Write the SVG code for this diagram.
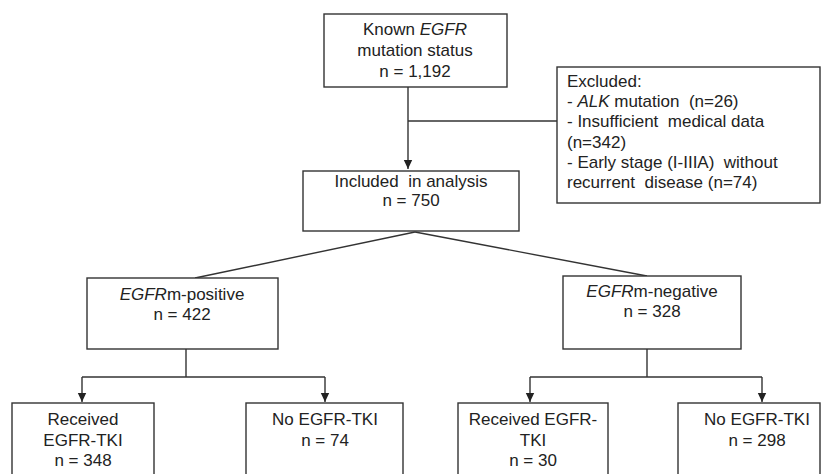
<svg xmlns="http://www.w3.org/2000/svg" width="823" height="474" viewBox="0 0 823 474">
<defs>
<style>
.box{fill:#fff;stroke:#333;stroke-width:1.4}
.ln{fill:none;stroke:#333;stroke-width:1.4}
text{font-family:"Liberation Sans",Arial,sans-serif;font-size:17px;fill:#222}
.c{text-anchor:middle}
.i{font-style:italic}
</style>
<marker id="arr" markerWidth="10" markerHeight="10" refX="9" refY="5" orient="auto" markerUnits="userSpaceOnUse">
<path d="M0,0.8 L9,5 L0,9.2 Z" fill="#222"/>
</marker>
</defs>
<rect width="823" height="474" fill="#fff"/>
<g id="connectors">
<path class="ln" d="M408,87 V169" marker-end="url(#arr)"/>
<path class="ln" d="M408,121 H557"/>
<path class="ln" d="M415,232 L195,278"/>
<path class="ln" d="M415,232 L647,276"/>
<path class="ln" d="M186,349 V377"/>
<path class="ln" d="M82,377 H325"/>
<path class="ln" d="M82,377 V402" marker-end="url(#arr)"/>
<path class="ln" d="M325,377 V402" marker-end="url(#arr)"/>
<path class="ln" d="M647,349 V377"/>
<path class="ln" d="M530,377 H762"/>
<path class="ln" d="M530,377 V402" marker-end="url(#arr)"/>
<path class="ln" d="M762,377 V402" marker-end="url(#arr)"/>
</g>
<g id="known">
<rect class="box" x="324" y="14" width="183" height="73"/>
<text class="c" x="415" y="35">Known <tspan class="i">EGFR</tspan></text>
<text class="c" x="415" y="56">mutation status</text>
<text class="c" x="415" y="77">n = 1,192</text>
</g>
<g id="excluded">
<rect class="box" x="557" y="67" width="263" height="136"/>
<text x="567" y="87">Excluded:</text>
<text x="567" y="107" xml:space="preserve">- <tspan class="i">ALK</tspan> mutation  (n=26)</text>
<text x="567" y="127" xml:space="preserve">- Insufficient  medical data</text>
<text x="567" y="148">(n=342)</text>
<text x="567" y="168" xml:space="preserve">- Early stage (I-IIIA)  without</text>
<text x="567" y="188" xml:space="preserve">recurrent  disease (n=74)</text>
</g>
<g id="included">
<rect class="box" x="303" y="171" width="216" height="60"/>
<text class="c" x="411" y="187" xml:space="preserve">Included  in analysis</text>
<text class="c" x="411" y="206">n = 750</text>
</g>
<g id="positive">
<rect class="box" x="87" y="278" width="191" height="71"/>
<text class="c" x="182" y="300"><tspan class="i">EGFR</tspan>m-positive</text>
<text class="c" x="182" y="320">n = 422</text>
</g>
<g id="negative">
<rect class="box" x="563" y="276" width="178" height="73"/>
<text class="c" x="652" y="297"><tspan class="i">EGFR</tspan>m-negative</text>
<text class="c" x="652" y="317">n = 328</text>
</g>
<g id="pos-received">
<rect class="box" x="12" y="403" width="142" height="80"/>
<text class="c" x="83" y="425">Received</text>
<text class="c" x="83" y="446">EGFR-TKI</text>
<text class="c" x="83" y="466">n = 348</text>
</g>
<g id="pos-no">
<rect class="box" x="246" y="403" width="157" height="80"/>
<text class="c" x="325" y="425">No EGFR-TKI</text>
<text class="c" x="325" y="446">n = 74</text>
</g>
<g id="neg-received">
<rect class="box" x="458" y="403" width="150" height="80"/>
<text class="c" x="533" y="425">Received EGFR-</text>
<text class="c" x="533" y="446">TKI</text>
<text class="c" x="533" y="466">n = 30</text>
</g>
<g id="neg-no">
<rect class="box" x="678" y="403" width="142" height="80"/>
<text class="c" x="757" y="425">No EGFR-TKI</text>
<text class="c" x="757" y="446">n = 298</text>
</g>
</svg>
